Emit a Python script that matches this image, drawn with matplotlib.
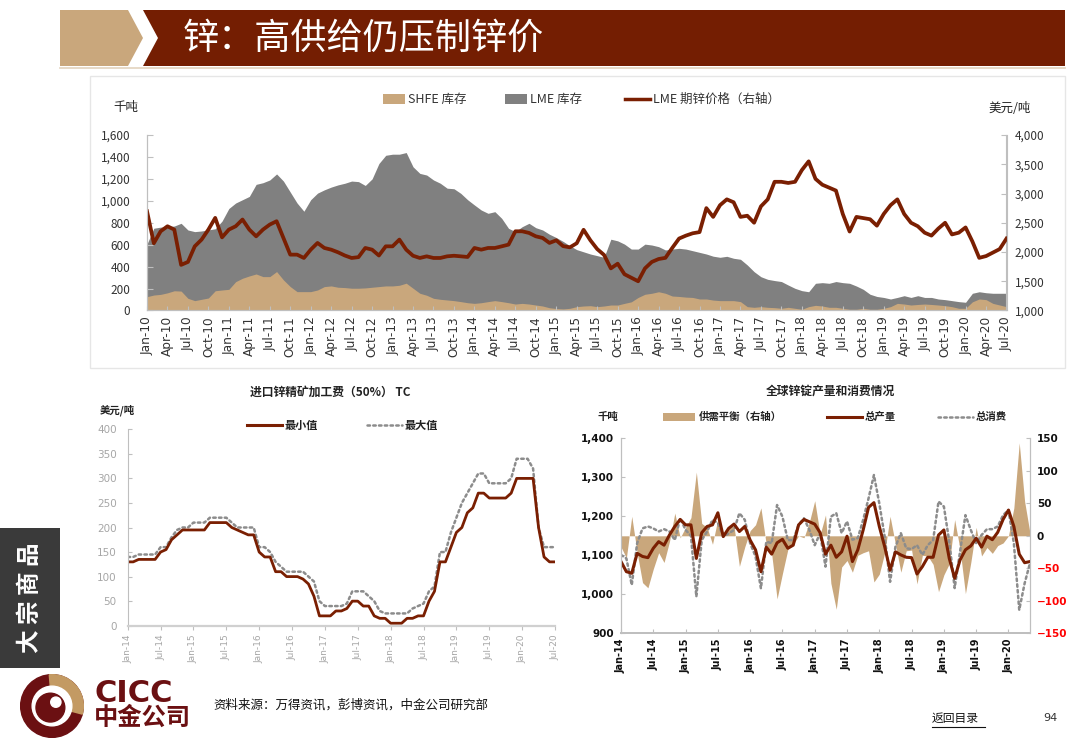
import numpy as np
import matplotlib
matplotlib.use('Agg')
import matplotlib.pyplot as plt
from matplotlib.patches import Polygon, Rectangle, Circle, Wedge
from matplotlib.lines import Line2D
from matplotlib.ticker import FuncFormatter

plt.rcParams['font.family'] = ['Noto Sans CJK SC', 'DejaVu Sans']
CJK = ['Noto Sans CJK SC', 'DejaVu Sans']

# ---------------- data: top chart (monthly, Jan-10 .. Jul-20) ----------------
lme_price = [2697, 2150, 2354, 2440, 2383, 1780, 1830, 2097, 2212, 2383, 2583, 2250,
             2383, 2440, 2555, 2383, 2268, 2383, 2469, 2526, 2240, 1955, 1955, 1898,
             2040, 2155, 2069, 2040, 1995, 1940, 1898, 1912, 2069, 2040, 1940, 2097,
             2097, 2212, 2040, 1936, 1898, 1926, 1898, 1898, 1926, 1936, 1926, 1915,
             2069, 2040, 2069, 2069, 2097, 2126, 2354, 2354, 2326, 2268, 2240, 2155,
             2200, 2100, 2080, 2150, 2380, 2200, 2050, 1950, 1720, 1800, 1620, 1560,
             1500, 1720, 1830, 1880, 1900, 2070, 2230, 2280, 2320, 2340, 2750, 2600,
             2800, 2900, 2850, 2600, 2620, 2500, 2780, 2900, 3200, 3200, 3180, 3200,
             3400, 3550, 3250, 3150, 3100, 3050, 2650, 2350, 2600, 2580, 2560, 2450,
             2650, 2800, 2900, 2650, 2500, 2440, 2330, 2280, 2400, 2500, 2300, 2330,
             2420, 2180, 1900, 1930, 1990, 2050, 2230]
lme_stock = [606, 750, 760, 764, 770, 795, 734, 719, 725, 735, 745, 815,
             930, 980, 1010, 1040, 1150, 1165, 1190, 1245, 1180, 1080, 980, 905,
             1010, 1070, 1100, 1125, 1145, 1160, 1180, 1175, 1140, 1200, 1340, 1415,
             1425, 1425, 1440, 1310, 1250, 1235, 1190, 1160, 1115, 1110, 1068, 1010,
             962, 916, 886, 901, 840, 749, 719, 764, 795, 755, 734, 695,
             665, 630, 590, 555, 535, 515, 500, 485, 650, 635, 605, 560,
             560, 605, 597, 582, 552, 560, 567, 560, 545, 530, 515, 495,
             485, 494, 476, 467, 415, 354, 308, 284, 273, 264, 232, 202,
             181, 171, 248, 254, 248, 264, 254, 248, 223, 193, 148, 128,
             119, 105, 119, 135, 119, 135, 119, 119, 105, 99, 90, 81,
             75, 157, 171, 162, 157, 157, 157]
shfe_stock = [126, 141, 147, 161, 180, 177, 111, 90, 102, 114, 180, 187,
              193, 263, 294, 315, 333, 309, 309, 355, 279, 218, 172, 172,
              172, 187, 218, 224, 212, 209, 203, 203, 206, 212, 218, 224,
              224, 230, 249, 203, 157, 139, 111, 102, 96, 90, 81, 71,
              65, 71, 81, 90, 81, 71, 59, 65, 59, 50, 41, 25,
              18, 14, 20, 35, 41, 44, 35, 41, 50, 50, 65, 79,
              119, 148, 157, 171, 157, 132, 128, 122, 119, 105, 105, 95,
              90, 90, 90, 81, 35, 29, 35, 29, 26, 20, 29, 20,
              11, 35, 47, 41, 29, 29, 20, 11, 11, 20, 11, 11,
              20, 35, 65, 59, 50, 55, 59, 55, 50, 44, 35, 20,
              20, 79, 105, 99, 65, 50, 35]
top_months = ['Jan', 'Apr', 'Jul', 'Oct']
top_years = ['10', '11', '12', '13', '14', '15', '16', '17', '18', '19', '20']
top_xlabels = [f"{mo}-{yr}" for yr in top_years for mo in top_months][:43]

# ---------------- data: TC chart (monthly, Jan-14 .. Jul-20) ----------------
tc_min = [130, 130, 135, 135, 135, 135, 150, 155, 175, 185, 195, 195,
          195, 195, 195, 210, 210, 210, 210, 200, 195, 190, 185, 185,
          150, 140, 140, 110, 110, 100, 100, 100, 95, 85, 60, 20,
          20, 20, 30, 30, 35, 50, 50, 40, 40, 20, 15, 15,
          5, 5, 5, 15, 15, 20, 20, 50, 70, 130, 130, 160,
          190, 200, 230, 240, 270, 270, 260, 260, 260, 260, 270, 300,
          300, 300, 300, 200, 140, 130, 130]
tc_max = [140, 140, 145, 145, 145, 145, 160, 160, 180, 195, 200, 200,
          210, 210, 210, 220, 220, 220, 220, 210, 200, 200, 200, 200,
          160, 160, 150, 130, 120, 110, 110, 110, 110, 100, 90, 50,
          40, 40, 40, 40, 45, 70, 70, 70, 60, 50, 30, 25,
          25, 25, 25, 25, 35, 40, 45, 70, 80, 150, 150, 190,
          220, 250, 270, 290, 310, 310, 290, 290, 290, 290, 300, 340,
          340, 340, 320, 200, 160, 160, 160]
tc_xlabels = ['Jan-14', 'Jul-14', 'Jan-15', 'Jul-15', 'Jan-16', 'Jul-16', 'Jan-17',
              'Jul-17', 'Jan-18', 'Jul-18', 'Jan-19', 'Jul-19', 'Jan-20', 'Jul-20']

# ---------------- data: global refined zinc (monthly, Jan-14 .. May-20) ----------------
zn_production = [1084, 1058, 1054, 1105, 1097, 1094, 1118, 1135, 1126, 1152, 1174, 1192,
                 1178, 1178, 1092, 1158, 1174, 1178, 1209, 1148, 1169, 1180, 1161, 1174,
                 1139, 1114, 1058, 1121, 1103, 1132, 1141, 1118, 1126, 1178, 1192, 1186,
                 1180, 1158, 1103, 1126, 1095, 1109, 1149, 1084, 1114, 1165, 1223, 1235,
                 1174, 1122, 1062, 1109, 1101, 1095, 1094, 1052, 1071, 1095, 1095, 1152,
                 1165, 1092, 1041, 1088, 1114, 1124, 1144, 1121, 1149, 1140, 1159, 1192,
                 1216, 1174, 1103, 1081, 1084]
zn_consumption = [1101, 1092, 1024, 1131, 1169, 1174, 1169, 1161, 1167, 1161, 1139, 1195,
                  1165, 1150, 994, 1139, 1161, 1191, 1183, 1148, 1156, 1165, 1208, 1191,
                  1131, 1097, 1015, 1135, 1131, 1229, 1199, 1139, 1139, 1178, 1195, 1165,
                  1126, 1156, 1071, 1199, 1208, 1157, 1187, 1140, 1144, 1191, 1246, 1306,
                  1233, 1148, 1032, 1122, 1157, 1118, 1116, 1126, 1101, 1126, 1139, 1238,
                  1225, 1135, 1016, 1109, 1203, 1165, 1131, 1152, 1167, 1167, 1174, 1203,
                  1216, 1131, 960, 1028, 1080]
zn_balance = [-17, -34, 30, -26, -72, -80, -51, -26, -41, -9, 35, -3,
              13, 28, 98, 19, 13, -13, 26, 0, 13, 15, -47, -17,
              8, 17, 43, -14, -28, -97, -58, -21, -13, 0, -3, 21,
              54, 2, 32, -73, -113, -48, -38, -56, -30, -26, -23, -71,
              -59, -26, 30, -13, -56, -23, -22, -74, -30, -31, -44, -86,
              -60, -43, 25, -21, -89, -41, 13, -31, -18, -27, -15, -11,
              0, 43, 143, 53, 4]
zn_xlabels = ['Jan-14', 'Jul-14', 'Jan-15', 'Jul-15', 'Jan-16', 'Jul-16', 'Jan-17',
              'Jul-17', 'Jan-18', 'Jul-18', 'Jan-19', 'Jul-19', 'Jan-20']

# ---------------- colours ----------------
DARKRED = '#7A1F02'
BANNER = '#741E02'
TAN = '#C9A77C'
GRAY = '#808080'
AXGRAY = '#BFBFBF'
LOGORED = '#6B1012'

W, H = 1080, 754
fig = plt.figure(figsize=(W / 100, H / 100), dpi=100)
fig.patch.set_facecolor('white')


def P(x, y):
    return (x / W, 1 - y / H)


def ftext(x, y, s, **kw):
    return fig.text(x / W, 1 - y / H, s, **kw)


def poly(points, **kw):
    fig.add_artist(Polygon([P(x, y) for x, y in points], closed=True,
                           transform=fig.transFigure, **kw))


# ---------------- header ----------------
poly([(60, 10), (128, 10), (143, 38), (128, 66), (60, 66)], facecolor=TAN, edgecolor='none')
poly([(143, 10), (1065, 10), (1065, 66), (143, 66), (158, 38)], facecolor=BANNER, edgecolor='none')
fig.add_artist(Line2D([60 / W, 1065 / W], [1 - 68 / H, 1 - 68 / H], transform=fig.transFigure,
                      color='#E3D3BE', lw=1.2))
ftext(183, 39, '锌：高供给仍压制锌价', color='white', fontsize=26, family=CJK,
      va='center', ha='left')

# box around top chart
fig.add_artist(Rectangle(P(90, 368), (1065 - 90) / W, (368 - 76) / H, transform=fig.transFigure,
                         facecolor='none', edgecolor='#E6E6E6', lw=1))

# ---------------- top chart ----------------
months_top = np.arange(len(lme_price))
ax1 = fig.add_axes([147 / W, 1 - 310.5 / H, (1006.5 - 147) / W, (310.5 - 135) / H])
ax1.fill_between(months_top, 0, lme_stock, color=GRAY, lw=0)
ax1.fill_between(months_top, 0, shfe_stock, color=TAN, lw=0)
ax1.set_xlim(0, 126)
ax1.set_ylim(0, 1600)
ax1.set_yticks(np.arange(0, 1601, 200))
ax1.yaxis.set_major_formatter(FuncFormatter(lambda v, p: f"{int(v):,}"))
ax1.set_xticks(np.arange(0, 127, 3))
ax1.set_xticklabels(top_xlabels, rotation=90, fontsize=8.7, color='#333333', family='DejaVu Sans')
ax1.tick_params(axis='y', labelsize=8.5, labelcolor='#333333', direction='in', length=4,
                color=AXGRAY, pad=12)
ax1.tick_params(axis='x', direction='in', length=3, color=AXGRAY, pad=4)
ax1.spines['top'].set_visible(False)
for s in ['left', 'bottom', 'right']:
    ax1.spines[s].set_color(AXGRAY)

ax2 = ax1.twinx()
ax2.plot(months_top, lme_price, color=DARKRED, lw=2.7, solid_joinstyle='round')
ax2.set_ylim(1000, 4000)
ax2.set_yticks(np.arange(1000, 4001, 500))
ax2.yaxis.set_major_formatter(FuncFormatter(lambda v, p: f"{int(v):,}"))
ax2.tick_params(axis='y', labelsize=8.5, labelcolor='#333333', direction='in', length=4,
                color=AXGRAY, pad=6)
ax2.spines['top'].set_visible(False)
for s in ['left', 'bottom', 'right']:
    ax2.spines[s].set_color(AXGRAY)

ftext(113, 108, '千吨', fontsize=9, family=CJK, va='center', color='#222222')
ftext(988, 108, '美元/吨', fontsize=9, family=CJK, va='center', color='#222222')

# top legend
fig.add_artist(Rectangle(P(383, 104), 22 / W, 10 / H, transform=fig.transFigure,
                         facecolor=TAN, edgecolor='none'))
ftext(408, 99, 'SHFE 库存', fontsize=9, family=CJK, va='center', color='#333333')
fig.add_artist(Rectangle(P(505, 104), 22 / W, 10 / H, transform=fig.transFigure,
                         facecolor=GRAY, edgecolor='none'))
ftext(530, 99, 'LME 库存', fontsize=9, family=CJK, va='center', color='#333333')
fig.add_artist(Line2D([625 / W, 650 / W], [1 - 99 / H, 1 - 99 / H], transform=fig.transFigure,
                      color=DARKRED, lw=2.5))
ftext(653, 99, 'LME 期锌价格（右轴）', fontsize=9, family=CJK, va='center', color='#333333')

# ---------------- bottom-left: TC ----------------
months_tc = np.arange(len(tc_min))
ax3 = fig.add_axes([127.7 / W, 1 - 625.7 / H, (555 - 127.7) / W, (625.7 - 429.3) / H])
ax3.plot(months_tc, tc_max, color='#8C8C8C', lw=1.8, linestyle=(0, (1, 1.3)),
         dash_capstyle='round')
ax3.plot(months_tc, tc_min, color=DARKRED, lw=2.0)
ax3.set_xlim(0, 78)
ax3.set_ylim(0, 400)
ax3.set_yticks(np.arange(0, 401, 50))
ax3.set_xticks(np.arange(0, 79, 6))
ax3.set_xticklabels(tc_xlabels, rotation=90, fontsize=6.5, color='#A6A6A6', family='DejaVu Sans')
ax3.tick_params(axis='y', labelsize=7.5, labelcolor='#A6A6A6', direction='in', length=3,
                color=AXGRAY, pad=8)
ax3.tick_params(axis='x', direction='out', length=3, color=AXGRAY, pad=3)
ax3.spines['top'].set_visible(False)
ax3.spines['right'].set_visible(False)
ax3.spines['left'].set_color(AXGRAY)
ax3.spines['bottom'].set_color('#D0D0D0')
ax3.spines['bottom'].set_linewidth(1.6)
for lab in ax3.get_yticklabels():
    lab.set_family('DejaVu Sans')

ftext(330, 392, '进口锌精矿加工费（50%） TC', fontsize=8.5, family=CJK, weight='bold',
      ha='center', va='center', color='#222222')
ftext(100, 410, '美元/吨', fontsize=7.5, family=CJK, weight='bold', va='center', color='#222222')
fig.add_artist(Line2D([247 / W, 282 / W], [1 - 425 / H, 1 - 425 / H], transform=fig.transFigure,
                      color=DARKRED, lw=2.2))
ftext(285, 425, '最小值', fontsize=8, family=CJK, weight='bold', va='center', color='#222222')
fig.add_artist(Line2D([367 / W, 402 / W], [1 - 425 / H, 1 - 425 / H], transform=fig.transFigure,
                      color='#8C8C8C', lw=1.8, linestyle=(0, (1, 1.3)), dash_capstyle='round'))
ftext(405, 425, '最大值', fontsize=8, family=CJK, weight='bold', va='center', color='#222222')

# ---------------- bottom-right: production / consumption ----------------
months_zn = np.arange(len(zn_production))
ax4 = fig.add_axes([621 / W, 1 - 633.3 / H, (1030 - 621) / W, (633.3 - 438.3) / H])
ax5 = ax4.twinx()
ax5.fill_between(months_zn, 0, zn_balance, color=TAN, lw=0)
ax5.set_ylim(-150, 150)
ax5.set_yticks(np.arange(-150, 151, 50))
ax5.tick_params(axis='y', labelsize=7.5, direction='in', length=3, color=AXGRAY, pad=5)
for lab, v in zip(ax5.get_yticklabels(), np.arange(-150, 151, 50)):
    lab.set_color('#FF0000' if v < 0 else '#111111')
    lab.set_family('DejaVu Sans')
    lab.set_weight('bold')

ax4.set_zorder(ax5.get_zorder() + 1)
ax4.patch.set_visible(False)
ax4.plot(months_zn, zn_consumption, color='#8C8C8C', lw=1.8, linestyle=(0, (1, 1.3)),
         dash_capstyle='round')
ax4.plot(months_zn, zn_production, color=DARKRED, lw=2.2)
ax4.set_xlim(0, 76)
ax4.set_ylim(900, 1400)
ax4.set_yticks(np.arange(900, 1401, 100))
ax4.yaxis.set_major_formatter(FuncFormatter(lambda v, p: f"{int(v):,}"))
ax4.set_xticks(np.arange(0, 73, 6))
ax4.set_xticklabels(zn_xlabels, rotation=90, fontsize=7, color='#111111', weight='bold',
                    family='DejaVu Sans')
ax4.tick_params(axis='y', labelsize=7.5, labelcolor='#111111', direction='in', length=3,
                color=AXGRAY, pad=5)
ax4.tick_params(axis='x', direction='in', length=3, color=AXGRAY, pad=4)
for lab in ax4.get_yticklabels():
    lab.set_weight('bold')
    lab.set_family('DejaVu Sans')
for a in (ax4, ax5):
    a.spines['top'].set_visible(False)
    for s in ['left', 'bottom', 'right']:
        a.spines[s].set_color(AXGRAY)
    a.spines['bottom'].set_linewidth(1.4)

ftext(830, 391, '全球锌锭产量和消费情况', fontsize=8.5, family=CJK, weight='bold',
      ha='center', va='center', color='#222222')
ftext(597, 417, '千吨', fontsize=7.5, family=CJK, weight='bold', va='center', color='#222222')
fig.add_artist(Rectangle(P(663, 421), 32 / W, 8 / H, transform=fig.transFigure,
                         facecolor=TAN, edgecolor='none'))
ftext(699, 417, '供需平衡（右轴）', fontsize=7.5, family=CJK, weight='bold', va='center',
      color='#222222')
fig.add_artist(Line2D([827 / W, 862 / W], [1 - 417 / H, 1 - 417 / H], transform=fig.transFigure,
                      color=DARKRED, lw=2.2))
ftext(865, 417, '总产量', fontsize=7.5, family=CJK, weight='bold', va='center', color='#222222')
fig.add_artist(Line2D([938 / W, 973 / W], [1 - 417 / H, 1 - 417 / H], transform=fig.transFigure,
                      color='#8C8C8C', lw=1.8, linestyle=(0, (1, 1.3)), dash_capstyle='round'))
ftext(976, 417, '总消费', fontsize=7.5, family=CJK, weight='bold', va='center', color='#222222')

# ---------------- side tab ----------------
fig.add_artist(Rectangle(P(0, 668), 60 / W, 140 / H, transform=fig.transFigure,
                         facecolor='#3A3A3A', edgecolor='none'))
ftext(30, 598, '大 宗 商 品', fontsize=17, family=CJK, weight='bold', color='white',
      rotation=90, ha='center', va='center')

# ---------------- footer ----------------
axl = fig.add_axes([20 / W, 1 - 738 / H, 64 / W, 64 / H])
axl.set_xlim(-1, 1)
axl.set_ylim(-1, 1)
axl.set_aspect('equal')
axl.axis('off')
axl.add_patch(Circle((0, 0), 0.98, color=LOGORED))
axl.add_patch(Wedge((0, 0), 0.98, -15, 95, color='#C39A63'))
axl.add_patch(Circle((0, 0), 0.62, color='white'))
axl.add_patch(Circle((-0.05, -0.05), 0.45, color=LOGORED))
axl.add_patch(Circle((0.12, 0.12), 0.16, color='white'))

ftext(94, 694, 'CICC', fontsize=22, weight='bold', color=LOGORED, family='DejaVu Sans',
      va='center')
ftext(94, 718, '中金公司', fontsize=17.5, weight='bold', color=LOGORED, family=CJK, va='center')
ftext(213, 705, '资料来源：万得资讯，彭博资讯，中金公司研究部', fontsize=9, family=CJK,
      va='center', color='#111111')
ftext(932, 718, '返回目录', fontsize=8.5, family=CJK, va='center', color='#111111')
fig.add_artist(Line2D([932 / W, 985 / W], [1 - 727 / H, 1 - 727 / H], transform=fig.transFigure,
                      color='#111111', lw=0.8))
ftext(1043, 718, '94', fontsize=8, family='DejaVu Sans', va='center', color='#333333')

fig.savefig('out.png', dpi=100, facecolor='white')
